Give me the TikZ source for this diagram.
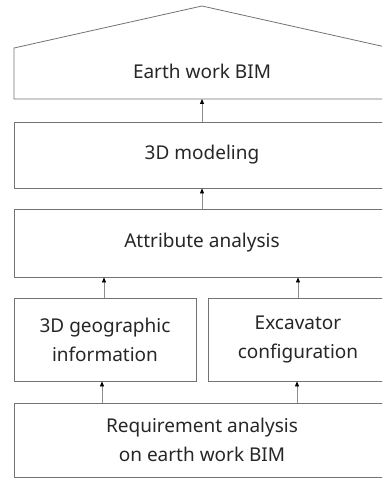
\documentclass[tikz,border=0pt]{standalone}
\usepackage{fontspec}
\setmainfont{Noto Sans}
\usetikzlibrary{arrows.meta}
\begin{document}
\begin{tikzpicture}[x=1pt,y=-1pt,
  box/.style={draw=black!55, line width=0.8pt, inner sep=0pt},
  lbl/.style={font=\fontsize{19}{29}\selectfont, align=center, text=black!85},
  arr/.style={draw=black!45, line width=0.8pt, -{Triangle[length=5pt,width=4pt,color=black,fill=black]}}]
\useasboundingbox (0,0) rectangle (382,478);
\clip (0,0) rectangle (382,478);
% pentagon
\draw[box] (14,99) -- (14,48) -- (202,6) -- (390,48) -- (390,99) -- cycle;
\node[lbl] (ewb) at (202,71) {Earth work BIM};
\coordinate (ewbB) at (202,99);
% boxes
\node[box, minimum width=376pt, minimum height=66pt] (mod) at (202,155) {};
\node[lbl] at (mod.center) {3D modeling};
\node[box, minimum width=376pt, minimum height=68pt] (att) at (202,243) {};
\node[lbl] at (att.center) {Attribute analysis};
\node[box, minimum width=182pt, minimum height=83pt] (geo) at (105,339.5) {};
\node[lbl] at (geo.center) {3D geographic\\information};
\node[box, minimum width=180pt, minimum height=83pt] (exc) at (298,339.5) {};
\node[lbl] at (exc.center) {Excavator\\configuration};
\node[box, minimum width=376pt, minimum height=74pt] (req) at (202,440) {};
\node[lbl] at (req.center) {Requirement analysis\\on earth work BIM};
% arrows
\draw[arr] (mod.north) -- (ewbB);
\draw[arr] (att.north) -- (mod.south);
\draw[arr] (geo.north -| 104,0) -- (att.south -| 104,0);
\draw[arr] (exc.north) -- (att.south -| exc.north);
\draw[arr] (req.north -| 102,0) -- (geo.south -| 102,0);
\draw[arr] (req.north -| 297,0) -- (exc.south -| 297,0);
\end{tikzpicture}
\end{document}
